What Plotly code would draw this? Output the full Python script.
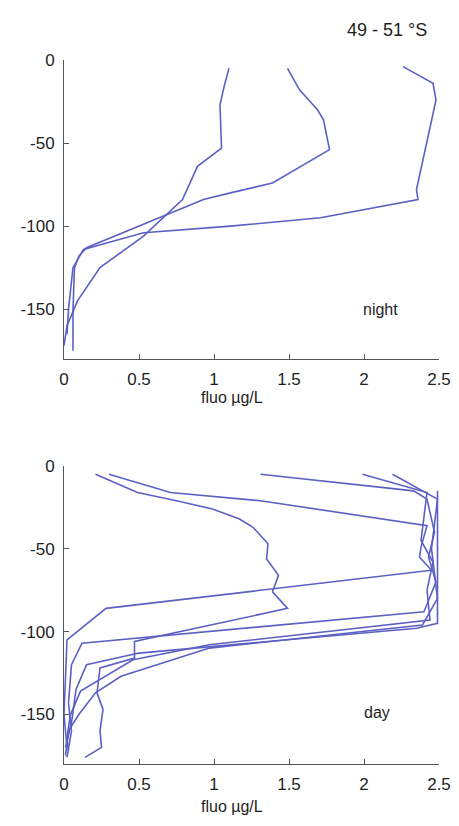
import plotly.graph_objects as go

# ---- data: (fluorescence µg/L, depth m) profiles ----
night_fluo = [
    [1.10, 1.07, 1.04, 1.05, 0.89, 0.86, 0.79, 0.53, 0.24, 0.09, 0.02, 0.00],
    [1.49, 1.57, 1.69, 1.73, 1.77, 1.39, 1.11, 0.93, 0.15, 0.10, 0.07, 0.06, 0.06],
    [2.26, 2.46, 2.48, 2.35, 2.36, 1.71, 1.11, 0.53, 0.13, 0.06, 0.03, 0.02],
]
night_depth = [
    [-5, -15, -27, -53, -64, -70, -84, -106, -125, -145, -160, -172],
    [-5, -18, -30, -36, -54, -74, -80, -84, -113, -118, -125, -150, -175],
    [-4, -14, -24, -78, -84, -95, -100, -104, -114, -125, -150, -165],
]

day_fluo = [
    [0.21, 0.49, 0.75, 0.99, 1.17, 1.26, 1.36, 1.35, 1.43, 1.39, 1.49, 0.47, 0.47, 0.24, 0.22, 0.26, 0.24, 0.25, 0.14],
    [0.30, 0.71, 1.31, 2.42, 2.38, 2.37, 2.45, 0.28, 0.02, 0.01, 0.00, 0.02],
    [1.31, 2.33, 2.42, 2.47, 2.43, 2.48, 2.40, 0.12, 0.05, 0.03, 0.05, 0.02],
    [1.99, 2.42, 2.38, 2.46, 2.42, 2.44, 0.97, 0.46, 0.11, 0.04, 0.02, 0.03],
    [2.19, 2.49, 2.45, 2.49, 2.39, 0.97, 0.38, 0.21, 0.10, 0.03, 0.01],
    [2.49, 2.49, 2.49, 2.35, 0.50, 0.15, 0.08, 0.05, 0.01],
]
day_depth = [
    [-5, -16, -21, -26, -32, -37, -47, -56, -66, -76, -86, -106, -116, -122, -137, -147, -160, -170, -176],
    [-5, -16, -21, -36, -49, -55, -63, -86, -105, -125, -150, -170],
    [-5, -15, -20, -40, -55, -70, -88, -107, -120, -143, -160, -176],
    [-5, -16, -45, -58, -75, -93, -108, -117, -136, -151, -165, -172],
    [-5, -20, -50, -80, -96, -110, -127, -137, -150, -160, -175],
    [-15, -60, -95, -98, -113, -120, -135, -155, -170],
]

x_ticks = [0, 0.5, 1, 1.5, 2, 2.5]
x_tick_text = ["0", "0.5", "1", "1.5", "2", "2.5"]
y_ticks = [0, -50, -100, -150]
y_tick_text = ["0", "-50", "-100", "-150"]

LINE = "rgb(92,96,196)"
W, H = 459, 826
FONT = "Liberation Sans, Arial"
INK = "#1e1e1e"

fig = go.Figure()
for xs, ys in zip(night_fluo, night_depth):
    fig.add_trace(go.Scatter(x=xs, y=ys, mode="lines", xaxis="x", yaxis="y",
                             line=dict(color=LINE, width=1.6), showlegend=False))
for xs, ys in zip(day_fluo, day_depth):
    fig.add_trace(go.Scatter(x=xs, y=ys, mode="lines", xaxis="x2", yaxis="y2",
                             line=dict(color=LINE, width=1.6), showlegend=False))

x0, x1 = 64 / W, 439 / W
top_dom = [1 - 359 / H, 1 - 60 / H]
bot_dom = [1 - 764 / H, 1 - 466 / H]

axfont = dict(family=FONT, size=17, color=INK)
xcommon = dict(range=[0, 2.5], tickvals=x_ticks, ticktext=x_tick_text, ticks="inside",
               ticklen=5, tickcolor="#555", showline=True, linecolor="#555", linewidth=1,
               showgrid=False, zeroline=False, tickfont=axfont, domain=[x0, x1],
               fixedrange=True, automargin=False, ticklabelstandoff=5)
ycommon = dict(range=[-180, 0], tickvals=y_ticks, ticktext=y_tick_text, ticks="inside",
               ticklen=5, tickcolor="#555", showline=True, linecolor="#555", linewidth=1,
               showgrid=False, zeroline=False, tickfont=axfont, fixedrange=True,
               automargin=False, ticklabelstandoff=5)

txt = dict(family=FONT, size=16, color=INK)


def label(text, px, py, font=txt):
    return dict(text=text, x=px / W, y=1 - py / H, xref="paper", yref="paper",
                xanchor="center", yanchor="middle", showarrow=False, font=font)


fig.update_layout(
    width=W, height=H,
    margin=dict(l=0, r=0, t=0, b=0),
    paper_bgcolor="white", plot_bgcolor="white",
    xaxis=dict(**xcommon, anchor="y"),
    yaxis=dict(**ycommon, domain=top_dom, anchor="x"),
    xaxis2=dict(**xcommon, anchor="y2"),
    yaxis2=dict(**ycommon, domain=bot_dom, anchor="x2"),
    annotations=[
        label("49 - 51 °S", 387, 30, dict(family=FONT, size=18, color=INK)),
        label("fluo µg/L", 232, 398),
        label("fluo µg/L", 232, 806),
        label("night", 380, 310),
        label("day", 377, 712),
    ],
)

fig.write_html("out.html", config={"displayModeBar": False},
               post_script="document.body.style.margin='0';")
